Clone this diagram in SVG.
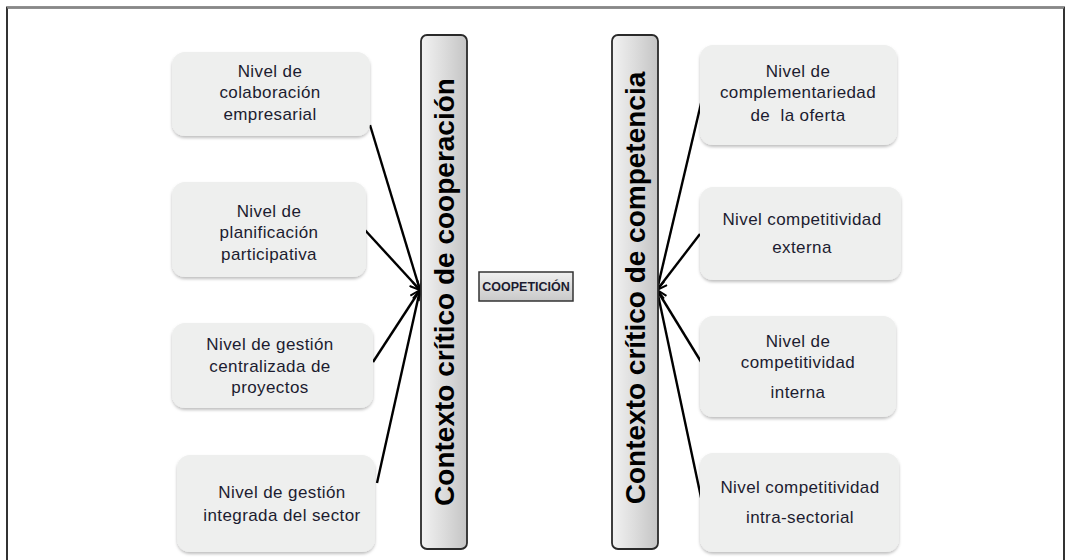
<svg xmlns="http://www.w3.org/2000/svg" width="1066" height="560" viewBox="0 0 1066 560">
<defs>
<linearGradient id="barg" x1="0" y1="0" x2="1" y2="0">
<stop offset="0" stop-color="#f2f2f2"/>
<stop offset="0.5" stop-color="#dcdcdc"/>
<stop offset="1" stop-color="#c4c4c4"/>
</linearGradient>
<linearGradient id="coog" x1="0" y1="0" x2="0" y2="1">
<stop offset="0" stop-color="#f0f0f0"/>
<stop offset="1" stop-color="#c8c8c8"/>
</linearGradient>
<filter id="sh" x="-10%" y="-10%" width="120%" height="130%">
<feDropShadow dx="0" dy="2" stdDeviation="1.5" flood-color="#000" flood-opacity="0.25"/>
</filter>
<marker id="ah" viewBox="0 0 12 12" refX="11" refY="6" markerWidth="12" markerHeight="12" markerUnits="userSpaceOnUse" orient="auto">
<path d="M1,1 L11,6 L1,11" fill="none" stroke="#000" stroke-width="2"/>
</marker>
</defs>
<style>
.box{fill:#eeefee;filter:url(#sh)}
.t{font-family:"Liberation Sans",Arial,sans-serif;font-size:17px;letter-spacing:0.4px;fill:#1c1c30;text-anchor:middle}
.bar{fill:url(#barg);stroke:#2a2a2a;stroke-width:1.8}
.vt{font-family:"Liberation Sans",Arial,sans-serif;font-size:28px;font-weight:bold;fill:#000;text-anchor:middle}
.c{stroke:#000;stroke-width:2.4;fill:none;marker-end:url(#ah)}
</style>
<rect x="0" y="0" width="1066" height="560" fill="#fff"/>
<path d="M7,570 L7,7.5 L1064,7.5 L1064,570" fill="none" stroke="#333" stroke-width="2"/>
<line x1="7" y1="7.5" x2="1064" y2="7.5" stroke="#888" stroke-width="2"/>

<g id="connectors">
<line class="c" x1="370" y1="125" x2="420" y2="290"/>
<line class="c" x1="364" y1="229" x2="420" y2="290"/>
<line class="c" x1="373" y1="362" x2="420" y2="290"/>
<line class="c" x1="377" y1="483" x2="420" y2="290"/>
<line class="c" x1="703" y1="95" x2="657" y2="290"/>
<line class="c" x1="700" y1="234" x2="657" y2="290"/>
<line class="c" x1="703" y1="365" x2="657" y2="290"/>
<line class="c" x1="702" y1="502" x2="657" y2="290"/>
</g>

<g id="l1"><rect class="box" x="172" y="52" width="198" height="84" rx="13"/>
<text class="t" x="270" y="77">Nivel de</text><text class="t" x="270" y="98">colaboración</text><text class="t" x="270" y="120">empresarial</text></g>
<g id="l2"><rect class="box" x="172" y="182" width="194" height="95" rx="13"/>
<text class="t" x="269" y="217">Nivel de</text><text class="t" x="269" y="238">planificación</text><text class="t" x="269" y="260">participativa</text></g>
<g id="l3"><rect class="box" x="172" y="323" width="201" height="85" rx="13"/>
<text class="t" x="270" y="350">Nivel de gestión</text><text class="t" x="270" y="372">centralizada de</text><text class="t" x="270" y="393">proyectos</text></g>
<g id="l4"><rect class="box" x="177" y="455" width="198" height="97" rx="13"/>
<text class="t" x="282" y="498">Nivel de gestión</text><text class="t" x="282" y="521">integrada del sector</text></g>

<g id="r1"><rect class="box" x="700" y="45" width="197" height="100" rx="13"/>
<text class="t" x="798" y="77">Nivel de</text><text class="t" x="798" y="98">complementariedad</text><text class="t" x="798" y="121" xml:space="preserve">de  la oferta</text></g>
<g id="r2"><rect class="box" x="700" y="187" width="201" height="93" rx="13"/>
<text class="t" x="802" y="225">Nivel competitividad</text><text class="t" x="802" y="253">externa</text></g>
<g id="r3"><rect class="box" x="700" y="316" width="196" height="101" rx="13"/>
<text class="t" x="798" y="347">Nivel de</text><text class="t" x="798" y="368">competitividad</text><text class="t" x="798" y="398">interna</text></g>
<g id="r4"><rect class="box" x="700" y="453" width="199" height="99" rx="13"/>
<text class="t" x="800" y="493">Nivel competitividad</text><text class="t" x="800" y="523">intra-sectorial</text></g>

<g id="bar-coop"><rect class="bar" x="421" y="35" width="46" height="514" rx="6"/>
<text class="vt" transform="translate(454,292) rotate(-90)">Contexto crítico de cooperación</text></g>
<g id="bar-comp"><rect class="bar" x="612" y="35" width="46" height="514" rx="6"/>
<text class="vt" transform="translate(645,288) rotate(-90)">Contexto crítico de competencia</text></g>
<g id="coopeticion"><rect x="479" y="272" width="94" height="29" fill="url(#coog)" stroke="#333" stroke-width="1.5"/>
<text x="526" y="291" font-family="Liberation Sans,Arial,sans-serif" font-size="12.5" font-weight="bold" fill="#1c1c30" text-anchor="middle">COOPETICIÓN</text></g>
</svg>
